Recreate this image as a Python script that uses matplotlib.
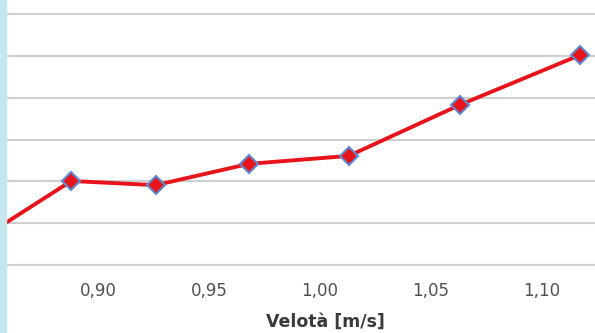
import numpy as np
import matplotlib.pyplot as plt
from matplotlib.patches import Rectangle

# data (y in arbitrary units: one gridline = 1)
velocita = [0.845, 0.888, 0.926, 0.968, 1.013, 1.063, 1.117]
valori = [0.55, 2.01, 1.91, 2.42, 2.61, 3.83, 5.02]
tick_pos = [0.90, 0.95, 1.00, 1.05, 1.10]
tick_lab = ['0,90', '0,95', '1,00', '1,05', '1,10']

fig = plt.figure(figsize=(5.95, 3.33), dpi=100)
fig.patches.append(Rectangle((0, 0), 6 / 595, 1, transform=fig.transFigure,
                             color='#c6e6ef', zorder=0))

ax = fig.add_axes([6 / 595, 68 / 333, 589 / 595, 265 / 333])
ax.plot(velocita, valori, color='#e8141c', lw=2.8, marker='D', ms=9,
        mfc='#e8141c', mec='#5b8bd0', mew=1.5, zorder=3)

ax.set_xlim(0.8586, 1.1239)
ax.set_ylim(0, 6.34)
ax.set_yticks(np.arange(0, 7))
ax.set_yticklabels([])
ax.tick_params(axis='y', length=0)
ax.grid(axis='y', color='#cfcfcf', lw=1.5)
ax.set_axisbelow(True)

ax.set_xticks(tick_pos)
ax.set_xticklabels(tick_lab, fontsize=12, color='#505050')
ax.tick_params(axis='x', length=0, pad=12)
ax.set_xlabel('Velotà [m/s]', fontsize=12.5, fontweight='bold', color='#3a3a3a')
# the original chart is cropped on the left, so the title sits right of centre
ax.xaxis.set_label_coords(0.5416, -0.18)

for s in ['top', 'right', 'left']:
    ax.spines[s].set_visible(False)
ax.spines['bottom'].set_color('#cfcfcf')
ax.spines['bottom'].set_linewidth(1.5)

fig.savefig('out.png', dpi=100)
